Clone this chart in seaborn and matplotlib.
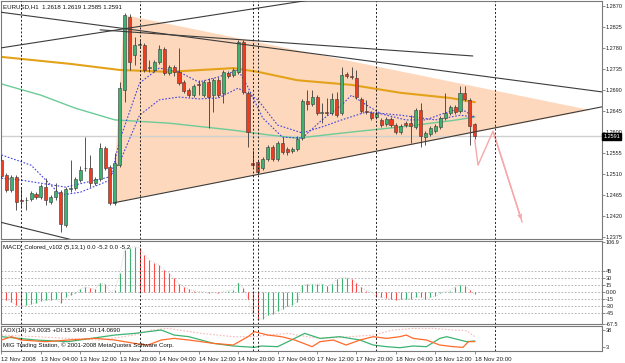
import numpy as np
import pandas as pd
import matplotlib
matplotlib.use("Agg")
import matplotlib.pyplot as plt
import seaborn as sns

# ---------------- data ----------------
opens = [1.2540, 1.2508, 1.2476, 1.2504, 1.2454, 1.2454, 1.2456, 1.2467, 1.2461, 1.2482,
         1.2450, 1.2461, 1.2471, 1.2401, 1.2478, 1.2480, 1.2497, 1.2523, 1.2523, 1.2491,
         1.2499, 1.2566, 1.2525, 1.2448, 1.2529, 1.2690, 1.2846, 1.2765, 1.2786, 1.2786,
         1.2737, 1.2733, 1.2750, 1.2778, 1.2726, 1.2739, 1.2729, 1.2707, 1.2690, 1.2679,
         1.2703, 1.2679, 1.2707, 1.2679, 1.2711, 1.2684, 1.2726, 1.2722, 1.2729, 1.2793,
         1.2684, 1.2534, 1.2536, 1.2523, 1.2542, 1.2568, 1.2542, 1.2576, 1.2564, 1.2559,
         1.2564, 1.2587, 1.2666, 1.2660, 1.2675, 1.2641, 1.2643, 1.2641, 1.2671, 1.2641,
         1.2724, 1.2720, 1.2716, 1.2671, 1.2645, 1.2641, 1.2632, 1.2626, 1.2617, 1.2628,
         1.2615, 1.2600, 1.2619, 1.2619, 1.2611, 1.2647, 1.2589, 1.2596, 1.2602, 1.2611,
         1.2630, 1.2641, 1.2654, 1.2645, 1.2684, 1.2669, 1.2618]
highs = [1.2551, 1.2512, 1.2508, 1.2508, 1.2482, 1.2461, 1.2474, 1.2471, 1.2489, 1.2501,
         1.2465, 1.2491, 1.2476, 1.2482, 1.2540, 1.2504, 1.2527, 1.2589, 1.2551, 1.2504,
         1.2576, 1.2570, 1.2529, 1.2555, 1.2707, 1.2855, 1.2853, 1.2804, 1.2797, 1.2791,
         1.2754, 1.2754, 1.2786, 1.2782, 1.2744, 1.2744, 1.2780, 1.2711, 1.2694, 1.2703,
         1.2711, 1.2711, 1.2716, 1.2716, 1.2718, 1.2733, 1.2731, 1.2737, 1.2797, 1.2797,
         1.2688, 1.2561, 1.2540, 1.2546, 1.2572, 1.2572, 1.2581, 1.2589, 1.2568, 1.2568,
         1.2591, 1.2671, 1.2690, 1.2690, 1.2679, 1.2662, 1.2673, 1.2684, 1.2686, 1.2739,
         1.2729, 1.2739, 1.2733, 1.2675, 1.2669, 1.2645, 1.2645, 1.2630, 1.2632, 1.2632,
         1.2619, 1.2617, 1.2624, 1.2636, 1.2651, 1.2662, 1.2602, 1.2613, 1.2617, 1.2634,
         1.2684, 1.2658, 1.2658, 1.2699, 1.2699, 1.2673, 1.2619]
lows = [1.2501, 1.2471, 1.2471, 1.2433, 1.2437, 1.2433, 1.2452, 1.2456, 1.2456, 1.2444,
        1.2446, 1.2454, 1.2386, 1.2397, 1.2471, 1.2476, 1.2493, 1.2516, 1.2482, 1.2486,
        1.2495, 1.2519, 1.2444, 1.2444, 1.2525, 1.2664, 1.2733, 1.2744, 1.2780, 1.2729,
        1.2729, 1.2729, 1.2746, 1.2722, 1.2722, 1.2720, 1.2701, 1.2684, 1.2675, 1.2675,
        1.2679, 1.2675, 1.2609, 1.2643, 1.2675, 1.2662, 1.2716, 1.2718, 1.2724, 1.2681,
        1.2568, 1.2525, 1.2510, 1.2519, 1.2538, 1.2538, 1.2538, 1.2553, 1.2551, 1.2555,
        1.2559, 1.2583, 1.2647, 1.2656, 1.2636, 1.2619, 1.2636, 1.2636, 1.2632, 1.2636,
        1.2716, 1.2714, 1.2671, 1.2641, 1.2639, 1.2626, 1.2628, 1.2611, 1.2613, 1.2611,
        1.2596, 1.2596, 1.2611, 1.2576, 1.2606, 1.2568, 1.2572, 1.2591, 1.2598, 1.2606,
        1.2626, 1.2636, 1.2639, 1.2641, 1.2666, 1.2572, 1.2585]
closes = [1.2506, 1.2476, 1.2504, 1.2450, 1.2453, 1.2455, 1.2469, 1.2461, 1.2484, 1.2454,
          1.2461, 1.2474, 1.2403, 1.2478, 1.2480, 1.2499, 1.2519, 1.2524, 1.2491, 1.2499,
          1.2566, 1.2523, 1.2448, 1.2534, 1.2694, 1.2851, 1.2750, 1.2786, 1.2789, 1.2733,
          1.2739, 1.2750, 1.2778, 1.2726, 1.2739, 1.2729, 1.2705, 1.2688, 1.2679, 1.2699,
          1.2701, 1.2707, 1.2675, 1.2711, 1.2679, 1.2729, 1.2720, 1.2733, 1.2793, 1.2686,
          1.2600, 1.2529, 1.2514, 1.2542, 1.2568, 1.2542, 1.2576, 1.2557, 1.2557, 1.2564,
          1.2585, 1.2666, 1.2660, 1.2675, 1.2641, 1.2643, 1.2641, 1.2671, 1.2636, 1.2722,
          1.2720, 1.2718, 1.2675, 1.2645, 1.2643, 1.2630, 1.2641, 1.2615, 1.2628, 1.2615,
          1.2600, 1.2613, 1.2615, 1.2613, 1.2647, 1.2591, 1.2598, 1.2609, 1.2613, 1.2630,
          1.2641, 1.2654, 1.2643, 1.2684, 1.2671, 1.2613, 1.2591]

# moving averages (read at key bars)
ma_slow_bars = [0, 14, 24, 34, 47, 52, 60, 71, 81, 91, 96]
ma_slow_vals = [1.2761, 1.2746, 1.2733, 1.2729, 1.2737, 1.2729, 1.2711, 1.2701, 1.2684, 1.2673, 1.2664]
ma_green_bars = [0, 8, 15, 23, 34, 47, 54, 60, 71, 81, 91, 96]
ma_green_vals = [1.2703, 1.2679, 1.2651, 1.2626, 1.2619, 1.2604, 1.2594, 1.2587, 1.2600, 1.2611, 1.2624, 1.2632]
ma_fast1_bars = [0, 6, 12, 16, 22, 24, 28, 32, 36, 40, 44, 48, 50, 53, 57, 61, 65, 69, 71, 74, 77, 82, 86, 90, 93, 96]
ma_fast1_vals = [1.2551, 1.2529, 1.2465, 1.2471, 1.2497, 1.2583, 1.2705, 1.2737, 1.2729, 1.2707, 1.2718, 1.2733,
                 1.2696, 1.2630, 1.2589, 1.2587, 1.2626, 1.2658, 1.2679, 1.2658, 1.2639, 1.2626, 1.2626, 1.2641,
                 1.2651, 1.2632]
ma_fast2_bars = [0, 4, 13, 22, 24, 28, 32, 36, 40, 44, 48, 52, 56, 61, 65, 69, 74, 81, 88, 93, 96]
ma_fast2_vals = [1.2501, 1.2497, 1.2482, 1.2504, 1.2536, 1.2636, 1.2669, 1.2675, 1.2671, 1.2673, 1.2694, 1.2669,
                 1.2615, 1.2598, 1.2611, 1.2626, 1.2643, 1.2636, 1.2626, 1.2636, 1.2632]

current_price = 1.2591

# drawn objects (bar index, price)
triangle_bars = [24.85, 22.6, 119.4]
triangle_prices = [1.2851, 1.2448, 1.2647]
support_bars = [22.6, 121.8]
support_prices = [1.2448, 1.2654]
line1_bars = [-0.3, 121.8]
line1_prices = [1.2857, 1.2686]
line2_bars = [20.0, 95.6]
line2_prices = [1.2819, 1.2763]
line3_bars = [-0.3, 62.6]
line3_prices = [1.2780, 1.2883]
line4_bars = [-0.3, 14.3]
line4_prices = [1.2407, 1.2369]
proj_bars = [96.0, 96.65, 99.7, 105.6]
proj_prices = [1.2583, 1.2529, 1.2602, 1.2407]
vline_bars = [4, 28, 51, 52, 76, 100]

# MACD histogram
macd = [-16, -17, -21, -28, -31, -28, -26, -23, -19, -18,
        -17, -16, -23, -11, -6, -3, 6, 11, 8, 6,
        19, 17, 1, 4, 40, 90, 95, 97, 95, 80,
        68, 63, 57, 47, 40, 29, 18, 11, 6, 3,
        1, 0.5, -3, -1, -3, 1, 3, 5, 20, 9,
        -14, -46, -60, -57, -50, -47, -40, -36, -31, -27,
        -21, 15, 17, 17, 17, 17, 12, 17, 27, 31,
        31, 27, 19, 10, 3, 1, -10, -11, -13, -14,
        -17, -16, -14, -14, -10, -11, -14, -11, -9, -3,
        1, 3, 11, 15, 13, 4, -5.2]
macd_levels = [45, 30, 15, 0, -15, -30, -45]

# ADX(14)
pdi_bars = [0, 7, 13.5, 23, 27, 32.4, 35, 38, 40.5, 43, 47, 51.3, 52.7, 56, 58.8, 61.5, 64.6, 68.6, 72.7,
            75.4, 78.1, 80.8, 83.5, 86.2, 88.9, 90.3, 93, 94.4, 96]
pdi_vals = [24.2, 17.3, 13.9, 27.6, 31, 37.9, 27.6, 24.2, 17.3, 10.4, 5, 2.2, 5, 3.6, 17.3, 31, 20.7, 24.2, 17.3,
            7, 3.6, 1.5, 5, 3.6, 20.7, 24.2, 17.3, 13.9, 15.35]
mdi_bars = [0, 2, 4, 9, 13.5, 19, 23, 27, 29.7, 32.4, 35, 38, 40.5, 43, 47, 50, 51.3, 54, 56.8, 59.5, 63,
            64.6, 67.3, 69.9, 72.7, 75.4, 78.1, 80.8, 82.1, 83.5, 86.2, 88.9, 91.6, 93.6, 94.7, 96]
mdi_vals = [17.3, 24.2, 17.3, 13.9, 17.3, 20.7, 17.3, 10.4, 7, 17.3, 20.7, 17.3, 13.9, 10.4, 7, 24.2, 34.5, 27.6,
            24.2, 17.3, 3.6, 13.9, 17.3, 7, 17.3, 24.2, 20.7, 24.2, 27.6, 20.7, 17.3, 7, 3.6, 2.2, 13.9, 14.07]
adx_bars = [0, 7, 20, 27, 30.4, 33.8, 40.5, 47, 51.3, 54, 58, 62, 64.6, 70.7, 75.4, 79.4, 83.5, 87.5, 91.6, 94.4, 96]
adx_vals = [27.6, 24.2, 17.3, 27.6, 37.9, 41.3, 31, 24.2, 24.2, 27.6, 31, 24.2, 20.7, 24.2, 27.6, 38, 41.3, 41.3,
            38, 36.5, 24.0]

price_ticks = [1.2870, 1.2825, 1.2780, 1.2735, 1.2690, 1.2645, 1.2600, 1.2555, 1.2510, 1.2465, 1.2420, 1.2375]
time_bars = [0, 8, 16, 24, 32, 40, 48, 56, 64, 72, 80, 88, 96]
time_labels = ["12 Nov 2008", "13 Nov 04:00", "13 Nov 12:00", "13 Nov 20:00", "14 Nov 04:00", "14 Nov 12:00",
               "14 Nov 20:00", "17 Nov 04:00", "17 Nov 12:00", "17 Nov 20:00", "18 Nov 04:00", "18 Nov 12:00",
               "18 Nov 20:00"]

# ---------------- style ----------------
sns.set_theme(style="white")
plt.rcParams["font.family"] = ["Liberation Sans", "DejaVu Sans"]
FS = 4.4
YFS = 4.0
W, H = 625, 363
UP = "#3CB371"
DOWN = "#F23A1C"
EDGE = "#3A3A3A"
SPINE = "#7A7A7A"

fig = plt.figure(figsize=(W / 100, H / 100), dpi=100)
fig.patch.set_facecolor("white")


def add_panel(top, bottom):
    return fig.add_axes([1 / W, 1 - bottom / H, 601 / W, (bottom - top) / H])


ax = add_panel(1, 239)
axm = add_panel(241, 324)
axa = add_panel(326, 351)

xlim = (-0.1, 121.8)
for a in (ax, axm, axa):
    a.set_xlim(*xlim)
    a.set_facecolor("white")
    for s in a.spines.values():
        s.set_color(SPINE)
        s.set_linewidth(0.8)
    a.tick_params(axis="both", which="both", length=0, labelsize=FS, colors="#202020", pad=1)
    a.set_xticks([])
    for vb in vline_bars:
        a.axvline(vb, color="#202020", lw=0.7, ls=(0, (2, 2)), zorder=6)

# ---------- main panel ----------
ax.set_ylim(1.23708, 1.28808)
ax.fill(triangle_bars, triangle_prices, color="#FDD8BC", lw=0, zorder=0)
ax.axhline(current_price, color="#D0D0D0", lw=1.0, zorder=1)

sns.lineplot(x=ma_green_bars, y=ma_green_vals, ax=ax, color="#6CCB98", lw=1.0, zorder=2)
sns.lineplot(x=ma_slow_bars, y=ma_slow_vals, ax=ax, color="#E3A21A", lw=1.5, zorder=2)
sns.lineplot(x=ma_fast1_bars, y=ma_fast1_vals, ax=ax, color="#4545E0", lw=0.8, linestyle=(0, (1.5, 1.5)), zorder=2)
sns.lineplot(x=ma_fast2_bars, y=ma_fast2_vals, ax=ax, color="#4545E0", lw=0.8, linestyle=(0, (1.5, 1.5)), zorder=2)

idx = np.arange(len(opens))
o = np.array(opens); h = np.array(highs); l = np.array(lows); c = np.array(closes)
up = c >= o
ax.vlines(idx, l, h, color=EDGE, lw=0.6, zorder=3)
body_lo = np.minimum(o, c)
body_h = np.maximum(np.abs(c - o), 0.00008)
ax.bar(idx, body_h, bottom=body_lo, width=0.62,
       color=np.where(up, UP, DOWN), edgecolor=EDGE, linewidth=0.4, zorder=4)

for bx, py in [(line1_bars, line1_prices), (line2_bars, line2_prices), (line3_bars, line3_prices),
               (line4_bars, line4_prices), (support_bars, support_prices)]:
    ax.plot(bx, py, color="#3C3C3C", lw=0.8, zorder=5)

ax.plot(proj_bars, proj_prices, color="#F7A8A8", lw=1.0, zorder=5)
ax.annotate("", xy=(proj_bars[-1], proj_prices[-1]), xytext=(proj_bars[-2], proj_prices[-2]),
            arrowprops=dict(arrowstyle="->", color="#F7A8A8", lw=1.0, mutation_scale=6), zorder=5)

ax.yaxis.tick_right()
ax.set_yticks(price_ticks)
ax.set_yticklabels([f"{p:.4f}" for p in price_ticks])
ax.tick_params(axis="y", right=True, length=2, width=0.6, color=SPINE, pad=0.8, labelsize=YFS)
ax.text(1.002, current_price, f"{current_price:.4f}", transform=ax.get_yaxis_transform(),
        fontsize=YFS, color="white", va="center", ha="left", zorder=10, clip_on=False,
        bbox=dict(boxstyle="square,pad=0.15", fc="black", ec="black"))
ax.text(0.004, 0.985, "EURUSD,H1  1.2618 1.2619 1.2585 1.2591", transform=ax.transAxes,
        fontsize=FS, color="#101010", va="top", ha="left", zorder=10)

# ---------- MACD panel ----------
axm.set_ylim(-68.5, 109.2)
for lv in macd_levels:
    axm.axhline(lv, color="#A8A8A8", lw=0.6, ls=(0, (2, 2)), zorder=1)
mv = np.array(macd, dtype=float)
prev = np.concatenate([[mv[0] + 1], mv[:-1]])
mcol = np.where(mv >= prev, UP, "#FF4A4A")
axm.vlines(idx, 0, mv, colors=mcol, lw=0.8, zorder=3)
axm.plot(idx, mv, color="#C8C8C8", lw=0.6, ls=(0, (1, 1.5)), zorder=2)
axm.yaxis.tick_right()
mt = [106.9, 45, 30, 15, 0, -15, -30, -45, -67.5]
axm.set_yticks(mt)
axm.set_yticklabels(["106.9", "45", "30", "15", "0.00", "-15", "-30", "-45", "-67.5"])
axm.tick_params(axis="y", right=True, length=2, width=0.6, color=SPINE, pad=0.8, labelsize=YFS)
axm.text(0.004, 0.95, "MACD_Colored_v102 (5,13,1) 0.0 -5.2 0.0 -5.2", transform=axm.transAxes,
         fontsize=FS, color="#101010", va="top", ha="left", zorder=10)

# ---------- ADX panel ----------
axa.set_ylim(-5.3, 46.2)
sns.lineplot(x=adx_bars, y=adx_vals, ax=axa, color="#F8B8B8", lw=0.8, linestyle=(0, (1.5, 1.5)), zorder=2)
sns.lineplot(x=pdi_bars, y=pdi_vals, ax=axa, color="#3CB371", lw=0.9, zorder=3)
sns.lineplot(x=mdi_bars, y=mdi_vals, ax=axa, color="#FF6A2A", lw=0.9, zorder=3)
axa.yaxis.tick_right()
axa.set_yticks([38, 3])
axa.set_yticklabels(["38", "3"])
axa.tick_params(axis="y", right=True, length=2, width=0.6, color=SPINE, pad=0.8, labelsize=YFS)
axa.text(0.004, 0.93, "ADX(14) 24.0035 +DI:15.3460 -DI:14.0690", transform=axa.transAxes,
         fontsize=FS, color="#101010", va="top", ha="left", zorder=10)
axa.text(0.004, 0.12, "MIG Trading Station, \u00a9 2001-2008 MetaQuotes Software Corp.", transform=axa.transAxes,
         fontsize=FS, color="#101010", va="bottom", ha="left", zorder=10)
axa.set_xticks(time_bars)
axa.set_xticklabels(time_labels, ha="left")
axa.tick_params(axis="x", bottom=True, length=2.5, width=0.6, color=SPINE, pad=1.5, labelsize=FS)

for a in (ax, axm, axa):
    a.set_xlabel("")
    a.set_ylabel("")
    a.set_xlim(*xlim)

fig.savefig("out.png", dpi=100, facecolor="white")
